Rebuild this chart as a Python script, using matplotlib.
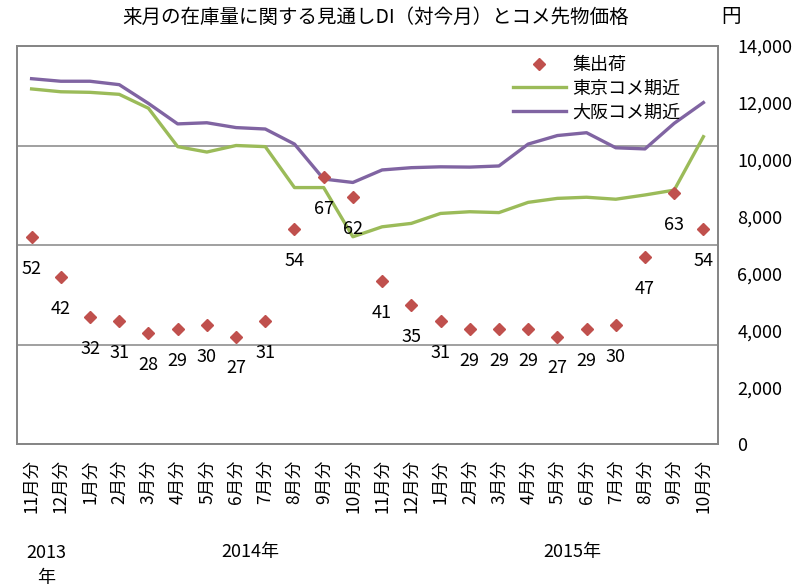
import matplotlib
matplotlib.use("Agg")
from matplotlib import pyplot as plt
import numpy as np

plt.rcParams['font.family'] = ['Noto Sans CJK JP', 'DejaVu Sans']

# data
months = ['11月分', '12月分', '1月分', '2月分', '3月分', '4月分', '5月分', '6月分',
          '7月分', '8月分', '9月分', '10月分', '11月分', '12月分', '1月分', '2月分',
          '3月分', '4月分', '5月分', '6月分', '7月分', '8月分', '9月分', '10月分']
years = ['2013\n年', '2014年', '2015年']
di = [52, 42, 32, 31, 28, 29, 30, 27, 31, 54, 67, 62,
      41, 35, 31, 29, 29, 29, 27, 29, 30, 47, 63, 54]
tokyo = [12490, 12390, 12370, 12300, 11810, 10460, 10270, 10500, 10460, 9020, 9020, 7290,
         7640, 7760, 8110, 8170, 8140, 8500, 8640, 8680, 8610, 8760, 8930, 10810]
osaka = [12850, 12760, 12760, 12640, 11980, 11260, 11300, 11130, 11080, 10550, 9320, 9200,
         9640, 9720, 9750, 9740, 9780, 10550, 10850, 10950, 10420, 10380, 11280, 12010]

x = np.arange(len(months))
gray = '#868686'

fig = plt.figure(figsize=(8.11, 5.88), dpi=100)
ax = fig.add_axes([17/811, 1 - 444/588, 701/811, 398/588])
ax2 = ax.twinx()
ax3 = ax.twinx()

# DI axis (hidden) carries the grid
ax.set_ylim(0, 100)
ax.set_yticks([0, 25, 50, 75, 100])
ax.grid(axis='y', color=gray, linewidth=1.1)
ax.tick_params(axis='y', left=False, labelleft=False)
ax.set_xlim(-0.5, len(months) - 0.5)
ax.set_xticks(x)
ax.set_xticklabels(months, rotation=90, fontsize=12.5)
ax.tick_params(axis='x', length=0, pad=11)

# price lines
l1, = ax2.plot(x, tokyo, color='#9BBB59', lw=2.4, label='東京コメ期近')
l2, = ax2.plot(x, osaka, color='#8064A2', lw=2.4, label='大阪コメ期近')
ax2.set_ylim(0, 14000)
ax2.set_yticks(np.arange(0, 14001, 2000))
ax2.set_yticklabels(['{:,}'.format(v) for v in range(0, 14001, 2000)], fontsize=13)
ax2.tick_params(axis='y', length=0, pad=14)

# DI markers on top
m, = ax3.plot(x, di, 'D', color='#C0504D', ms=6.6, ls='none', label='集出荷')
ax3.set_ylim(0, 100)
ax3.set_yticks([])
for xi, v in zip(x, di):
    ax3.annotate(str(v), (xi, v), xytext=(0, -23), textcoords='offset points',
                 ha='center', va='center', fontsize=13)

for a in (ax, ax2, ax3):
    for s in a.spines.values():
        s.set_color(gray)
        s.set_linewidth(1.1)

ax3.legend(handles=[m, l1, l2], loc='upper left', bbox_to_anchor=(0.708, 0.975),
           frameon=False, fontsize=13, handlelength=2.9, handletextpad=0.35,
           labelspacing=0.32, borderpad=0, borderaxespad=0)

# year labels under the month labels
starts = [0] + [i for i in range(1, len(months)) if months[i] == '1月分'] + [len(months)]
for y, a, b in zip(years, starts[:-1], starts[1:]):
    ax.text((a + b - 1) / 2, -0.25, y, transform=ax.get_xaxis_transform(),
            ha='center', va='top', fontsize=13, linespacing=1.55)

fig.text(376/811, 1 - 17/588, '来月の在庫量に関する見通しDI（対今月）とコメ先物価格',
         ha='center', va='center', fontsize=14)
fig.text(731/811, 1 - 17/588, '円', ha='center', va='center', fontsize=14)

fig.savefig('out.png', dpi=100)
